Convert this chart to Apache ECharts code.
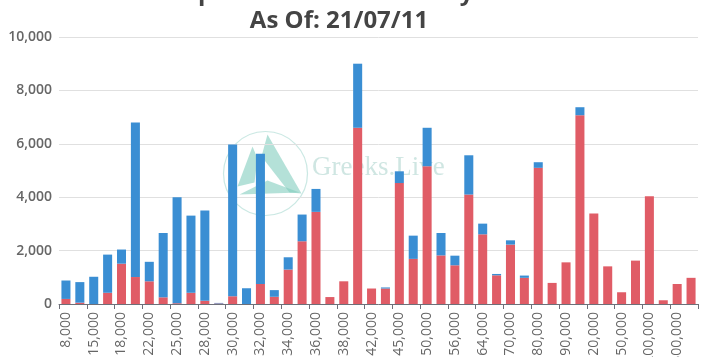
<!DOCTYPE html>
<html>
<head>
<meta charset="utf-8">
<script src="https://cdn.jsdelivr.net/npm/echarts@6/dist/echarts.min.js"></script>
<style>
html,body{margin:0;padding:0;background:#fff;}
#chart{width:707px;height:357px;}
</style>
</head>
<body>
<div id="chart"></div>
<script>
const titleLine1 = "BTC Options Total Volume by Strike";
const titleLine2 = "As Of: 21/07/11";
const strikes = ["8,000","10,000","15,000","16,000","18,000","20,000","22,000","24,000","25,000","26,000",
  "28,000","29,000","30,000","31,000","32,000","33,000","34,000","35,000","36,000","37,000",
  "38,000","40,000","42,000","44,000","45,000","48,000","50,000","52,000","56,000","60,000",
  "64,000","68,000","70,000","75,000","80,000","85,000","90,000","100,000","120,000","140,000",
  "150,000","160,000","200,000","250,000","300,000","400,000"];
const redValues = [190,50,0,420,1510,1010,850,250,30,420,
  120,20,290,0,750,270,1290,2350,3450,260,
  850,6600,580,580,4530,1690,5160,1820,1450,4100,
  2610,1075,2225,980,5100,790,1560,7070,3390,1410,
  440,1625,4035,140,750,980];
const blueValues = [690,770,1020,1430,530,5790,730,2410,3970,2890,
  3380,20,5680,590,4880,250,460,1000,860,0,
  0,2400,0,40,440,870,1440,840,360,1470,
  400,50,160,85,210,0,0,300,0,0,
  0,0,0,0,0,0];
const yTicks = [0,2000,4000,6000,8000,10000];

const chart = echarts.init(document.getElementById('chart'));
const wmColor = 'rgba(130,205,190,0.6)';
chart.setOption({
  animation:false,
  backgroundColor:'#fff',
  title:{
    text: titleLine1 + "\n" + titleLine2,
    left:334,
    textAlign:'center',
    top:-26,
    textStyle:{fontFamily:'Open Sans',fontWeight:'bold',fontSize:24,lineHeight:28,color:'#444'}
  },
  grid:{left:59,right:9,top:37,bottom:53,outerBoundsMode:'none',containLabel:false},
  xAxis:{
    type:'category',
    data:strikes,
    axisLine:{lineStyle:{color:'#6e7079'}},
    axisTick:{show:true,interval:1,lineStyle:{color:'#6e7079'}},
    axisLabel:{interval:1,rotate:90,fontFamily:'Open Sans',fontSize:14,color:'#666',margin:8}
  },
  yAxis:{
    type:'value',
    min:yTicks[0],
    max:yTicks[yTicks.length-1],
    interval:2000,
    splitLine:{lineStyle:{color:'#e0e0e0'}},
    axisLabel:{fontFamily:'Open Sans',fontSize:14,fontWeight:600,color:'#666',margin:7,
      formatter:v=>v.toLocaleString('en-US')}
  },
  series:[
    {name:'Calls',type:'bar',stack:'s',data:redValues,itemStyle:{color:'#e05c66'},barCategoryGap:'35%',z:3},
    {name:'Puts',type:'bar',stack:'s',data:blueValues,itemStyle:{color:'#3a8ed3'},barCategoryGap:'35%',z:3}
  ],
  graphic:[
    {type:'group',left:221,top:129,z:0,silent:true,children:[
      {type:'circle',z:0,shape:{cx:42,cy:43,r:42},style:{fill:'none',stroke:'rgba(150,210,200,0.5)',lineWidth:1.2}},
      {type:'polygon',z:0,shape:{points:[[29,16],[14,56],[31,52],[34,28]]},style:{fill:wmColor}},
      {type:'polygon',z:0,shape:{points:[[44,4],[38,26],[66,62],[78,63]]},style:{fill:wmColor}},
      {type:'polygon',z:0,shape:{points:[[16,64],[44,50],[76,62]]},style:{fill:wmColor}}
    ]},
    {type:'text',left:312,top:154,z:0,silent:true,
      style:{text:'Greeks.Live',font:'27px "Liberation Serif"',fill:'rgba(160,205,198,0.5)'}}
  ]
});
</script>
</body>
</html>
